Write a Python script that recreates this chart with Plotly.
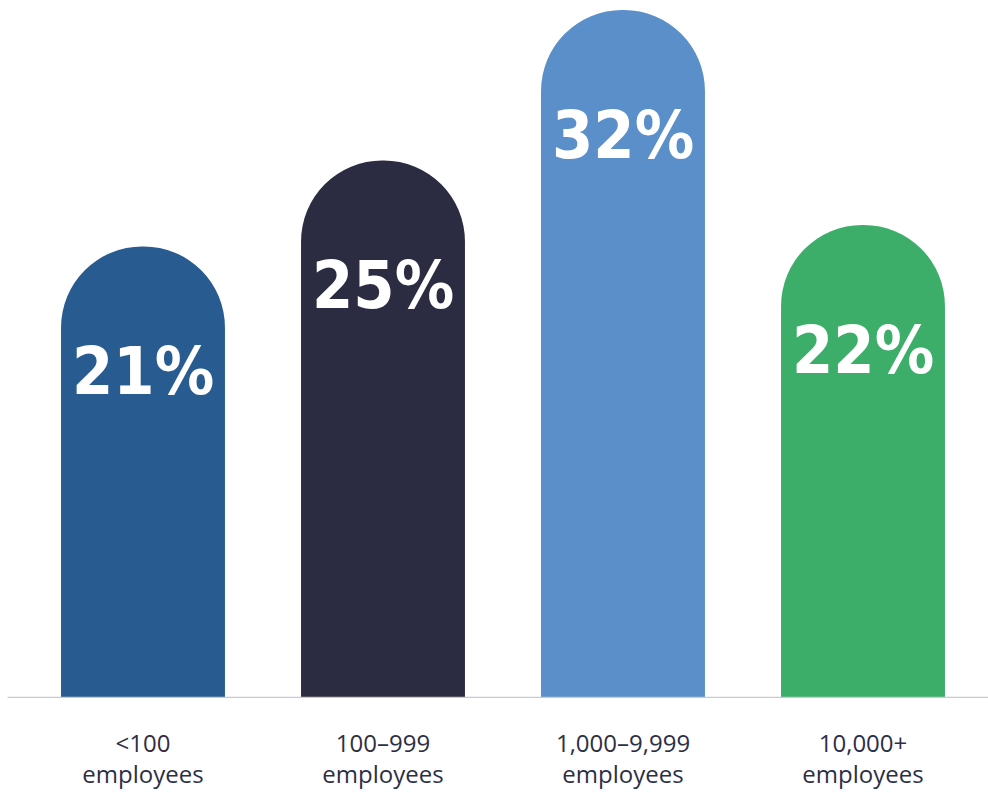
import plotly.graph_objects as go

categories = ["<100<br>employees", "100–999<br>employees", "1,000–9,999<br>employees", "10,000+<br>employees"]
values = [21, 25, 32, 22]
labels = ["21%", "25%", "32%", "22%"]
colors = ["#285C91", "#2B2B42", "#5A8FC9", "#3DAE6A"]

fig = go.Figure()
fig.add_trace(go.Bar(
    x=categories, y=values,
    marker=dict(color=colors, line=dict(width=0), cornerradius="50%"),
    hoverinfo="skip",
))

for c, v, t in zip(categories, values, labels):
    fig.add_annotation(
        x=c, y=v, text=t, showarrow=False, yanchor="middle", yshift=-125,
        font=dict(family="DejaVu Sans Condensed, sans-serif",
                  size=66, color="white", weight="bold"),
    )

fig.add_shape(type="line", xref="paper", yref="y", x0=-0.016, x1=1.01, y0=0, y1=0,
              line=dict(color="#C9C9D1", width=2.5), layer="above")

fig.update_layout(
    width=988, height=793,
    margin=dict(l=23, r=5, t=0, b=95, autoexpand=False),
    paper_bgcolor="white", plot_bgcolor="white",
    bargap=0.317,
    showlegend=False,
    xaxis=dict(showgrid=False, zeroline=False, showline=False, automargin=False,
               ticks="outside", ticklen=24, tickcolor="rgba(0,0,0,0)",
               tickfont=dict(family="Open Sans, sans-serif", size=24, color="#2E2E45")),
    yaxis=dict(range=[0, 698 / 21.5], visible=False, showgrid=False, zeroline=False, automargin=False),
)

fig.write_html("out.html", config={"displayModeBar": False},
               post_script="document.body.style.margin='0';document.body.style.overflow='hidden';")
